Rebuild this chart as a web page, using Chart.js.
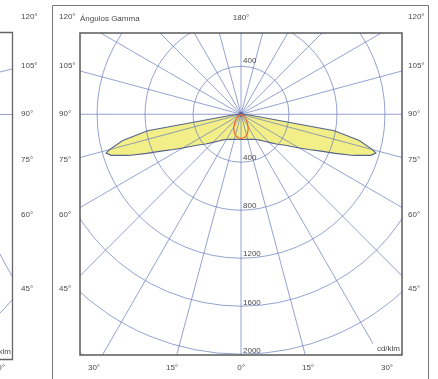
<!DOCTYPE html>
<html>
<head>
<meta charset="utf-8">
<script src="https://cdn.jsdelivr.net/npm/chart.js@4"></script>
<style>
  html, body { margin: 0; padding: 0; background: #fff; }
  #wrap { position: relative; width: 438px; height: 379px; }
</style>
</head>
<body>
<div id="wrap"><canvas id="polar" width="438" height="379"></canvas></div>
<script>
// gamma angles (deg) and intensities in cd/klm
const gammas   = [0, 5, 10, 15, 20, 25, 30, 35, 40, 45, 50, 55, 60, 62.5, 65, 67.5, 70, 72.5, 74, 75, 77.5, 80, 85, 90];
const planeC0  = [208, 210, 212, 216, 222, 230, 242, 260, 290, 330, 385, 450, 560, 635, 720, 850, 1000, 1135, 1170, 1135, 1010, 790, 70, 0];
const planeC90 = [200, 198, 192, 180, 162, 140, 118, 95, 75, 57, 42, 30, 20, 16, 12, 9, 7, 5, 4, 4, 3, 2, 1, 0];

const ringValues = [400, 800, 1200, 1600, 2000, 2400];
const ringLabelsDown = ['400', '800', '1200', '1600', '2000'];
const ringLabelsUp = ['400'];
const sideLabels = ['45°', '60°', '75°', '90°', '105°', '120°'];
const bottomLabels = ['30°', '15°', '0°', '15°', '30°'];
const rayStep = 15;

const rad = d => d * Math.PI / 180;

// both halves of a plane: right side gamma 90 -> 0, then left side 0 -> 90
const lobe = (values) => {
    const pts = [];
    for (let i = gammas.length - 1; i >= 0; i--) {
        pts.push({ x: values[i] * Math.sin(rad(gammas[i])), y: -values[i] * Math.cos(rad(gammas[i])) });
    }
    for (let i = 1; i < gammas.length; i++) {
        pts.push({ x: -values[i] * Math.sin(rad(gammas[i])), y: -values[i] * Math.cos(rad(gammas[i])) });
    }
    return pts;
};

const c0Points = lobe(planeC0);
const c90Points = lobe(planeC90);

const FONT = '8px "Liberation Sans", Arial, sans-serif';
const GRID = 'rgba(108,126,190,0.8)';

const polarGrid = {
    id: 'polarGrid',
    afterDatasetDraw(chart, args) {
        // grid sits above the yellow fill, below outline and orange curve
        if (args.index !== 2) return;
        const { ctx, chartArea: a, scales: { x, y } } = chart;
        const cx = x.getPixelForValue(0), cy = y.getPixelForValue(0);
        const unit = x.getPixelForValue(1) - cx;
        ctx.save();
        ctx.beginPath();
        ctx.rect(a.left, a.top, a.width, a.height);
        ctx.clip();
        ctx.strokeStyle = GRID;
        ctx.lineWidth = 0.9;
        ringValues.forEach(v => {
            ctx.beginPath();
            ctx.arc(cx, cy, v * unit, 0, Math.PI * 2);
            ctx.stroke();
        });
        for (let g = 0; g < 360; g += rayStep) {
            const far = 4000;
            ctx.beginPath();
            ctx.moveTo(cx, cy);
            ctx.lineTo(x.getPixelForValue(far * Math.sin(rad(g))), y.getPixelForValue(-far * Math.cos(rad(g))));
            ctx.stroke();
        }
        ctx.fillStyle = 'rgba(70,86,165,0.9)';
        ctx.beginPath();
        ctx.arc(cx, cy, 2.2, 0, Math.PI * 2);
        ctx.fill();
        ctx.restore();
    },
    afterDraw(chart) {
        const { ctx, chartArea: a, scales: { x, y } } = chart;
        const cx = x.getPixelForValue(0);
        ctx.save();

        // outer panel frame (bottom runs off the picture)
        ctx.strokeStyle = '#777';
        ctx.lineWidth = 1;
        ctx.beginPath();
        ctx.moveTo(52.5, 379); ctx.lineTo(52.5, 5.5); ctx.lineTo(428.5, 5.5); ctx.lineTo(428.5, 379);
        ctx.stroke();

        // neighbouring diagram, cut off at the left edge
        ctx.strokeStyle = GRID;
        ctx.lineWidth = 0.9;
        ctx.beginPath();
        ctx.moveTo(0, 114.5); ctx.lineTo(12, 114.5);
        ctx.moveTo(0, 72); ctx.lineTo(12, 69);
        ctx.moveTo(0, 254); ctx.quadraticCurveTo(6, 266, 12, 276);
        ctx.moveTo(0, 313); ctx.quadraticCurveTo(6, 307, 12, 300);
        ctx.stroke();
        ctx.strokeStyle = '#666';
        ctx.lineWidth = 1.3;
        ctx.beginPath();
        ctx.moveTo(0, 32.5); ctx.lineTo(12.5, 32.5); ctx.lineTo(12.5, 359.5); ctx.lineTo(0, 359.5);
        ctx.stroke();

        // plot box
        ctx.strokeStyle = '#5a5a5a';
        ctx.lineWidth = 1.5;
        ctx.strokeRect(a.left, a.top, a.width, a.height);

        ctx.font = FONT;
        ctx.fillStyle = '#4a4a4a';
        ctx.textBaseline = 'middle';

        // angle labels on both sides
        const sideY = [289, 215, 160, 114, 66, 17];
        ctx.textAlign = 'left';
        sideLabels.forEach((t, i) => {
            ctx.fillText(t, 59, sideY[i]);
            ctx.fillText(t, 408, sideY[i]);
            ctx.fillText(t, 21, sideY[i]);
        });
        ctx.fillText('Ángulos Gamma', 80, 19);

        ctx.textAlign = 'center';
        ctx.fillText('180°', cx, 18);
        const bottomX = [94, 172, 241, 308, 387];
        bottomLabels.forEach((t, i) => ctx.fillText(t, bottomX[i], 368));

        // cut-off labels of the neighbouring diagram
        ctx.textAlign = 'right';
        ctx.fillText('cd/klm', 11, 352);
        ctx.fillText('30°', 5, 368);

        // intensity labels along the vertical axis
        ctx.textAlign = 'left';
        ctx.textBaseline = 'bottom';
        ringLabelsDown.forEach(t => ctx.fillText(t, cx + 2, y.getPixelForValue(-Number(t)) - 0.5));
        ringLabelsUp.forEach(t => ctx.fillText(t, cx + 2, y.getPixelForValue(Number(t)) - 1));

        // unit box
        ctx.fillStyle = '#fff';
        ctx.fillRect(a.right - 29, a.bottom - 12, 28, 11);
        ctx.fillStyle = '#4a4a4a';
        ctx.textAlign = 'right';
        ctx.textBaseline = 'middle';
        ctx.fillText('cd/klm', a.right - 2, a.bottom - 6.5);

        ctx.restore();
    }
};

new Chart(document.getElementById('polar'), {
    type: 'scatter',
    data: {
        datasets: [
            { label: 'C90-C270', data: c90Points, showLine: true, borderColor: '#ef6b2e', borderWidth: 1.2, pointRadius: 0, fill: false },
            { label: 'C0-C180', data: c0Points, showLine: true, borderColor: '#55648c', borderWidth: 1.1, pointRadius: 0, fill: false },
            { label: 'C0-C180 fill', data: c0Points, showLine: true, borderColor: 'rgba(0,0,0,0)', borderWidth: 0, backgroundColor: '#f2ee88', pointRadius: 0, fill: 'shape' }
        ]
    },
    options: {
        responsive: false,
        devicePixelRatio: 1,
        animation: false,
        events: [],
        layout: { padding: { left: 80, top: 33, right: 36, bottom: 24 } },
        plugins: { legend: { display: false }, tooltip: { enabled: false } },
        scales: {
            x: { type: 'linear', min: -1342, max: 1342, display: false },
            y: { type: 'linear', min: -2000, max: 675, display: false }
        }
    },
    plugins: [polarGrid]
});
</script>
</body>
</html>
